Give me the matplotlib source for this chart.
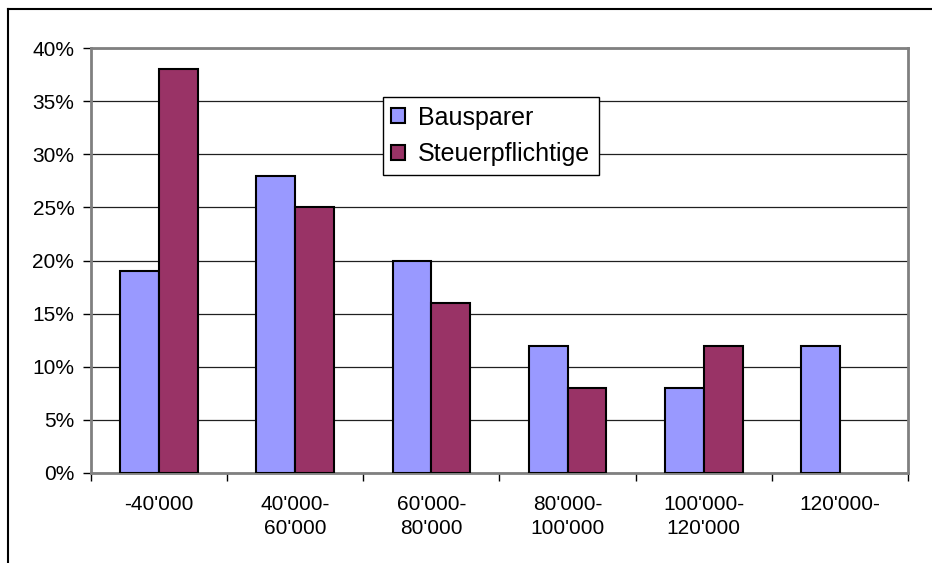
import numpy as np
import matplotlib
matplotlib.use("Agg")
import matplotlib.pyplot as plt
from matplotlib.lines import Line2D
from matplotlib.ticker import PercentFormatter

plt.rcParams['font.family'] = ['Liberation Sans', 'DejaVu Sans']

## data (percent)
categories = ["-40'000", "40'000-\n60'000", "60'000-\n80'000",
              "80'000-\n100'000", "100'000-\n120'000", "120'000-"]
bausparer = [19, 28, 20, 12, 8, 12]
steuerpflichtige = [38, 25, 16, 8, 12, np.nan]

W, H = 932, 563
fig = plt.figure(figsize=(W / 100, H / 100), dpi=100)

## outer chart frame (only top and left visible)
fig.add_artist(Line2D([8 / W, 1.0], [1 - 9 / H, 1 - 9 / H], color='black', lw=1.5))
fig.add_artist(Line2D([8 / W, 8 / W], [1 - 9 / H, 0.0], color='black', lw=1.5))

ax = fig.add_axes([91 / W, 1 - 473 / H, (908 - 91) / W, (473 - 48) / H])

x = np.arange(len(categories))
bw = 0.285
ax.bar(x - bw / 2, bausparer, bw, color='#9999FF', edgecolor='black', lw=1.5,
       label='Bausparer', zorder=3)
ax.bar(x + bw / 2, steuerpflichtige, bw, color='#993366', edgecolor='black', lw=1.5,
       label='Steuerpflichtige', zorder=3)

ax.set_xlim(-0.5, len(categories) - 0.5)
ax.set_ylim(0, 40)
ax.set_yticks(np.arange(0, 41, 5))
ax.yaxis.set_major_formatter(PercentFormatter(decimals=0))
ax.yaxis.grid(True, color='#202020', lw=0.9, zorder=0)

ax.set_xticks(x)
ax.set_xticklabels(categories, fontsize=15, linespacing=1.3)
ax.set_xticks(np.arange(-0.5, len(categories)), minor=True)
ax.tick_params(axis='x', which='major', length=0, pad=16)
ax.tick_params(axis='x', which='minor', length=6, width=1, color='black', direction='out')
ax.tick_params(axis='y', length=6, width=1, color='black', labelsize=15, pad=6)

for s in ax.spines.values():
    s.set_color('#808080')
    s.set_linewidth(2)
ax.spines['left'].set_zorder(4)

leg = ax.legend(loc='upper left', bbox_to_anchor=(0.357, 0.885), borderaxespad=0,
                fontsize=18, fancybox=False, framealpha=1, edgecolor='black',
                handlelength=0.56, handleheight=0.56, handletextpad=0.5,
                labelspacing=0.5, borderpad=0.35)
leg.get_frame().set_linewidth(1)
for p in leg.get_patches():
    p.set_linewidth(1.5)

fig.savefig("out.png", dpi=100)
